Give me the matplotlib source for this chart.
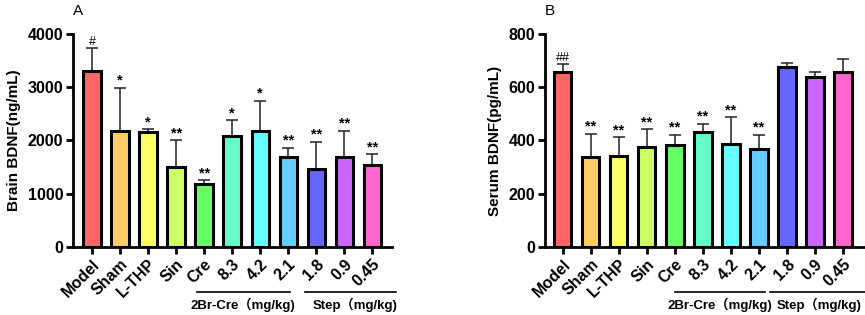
import matplotlib.pyplot as plt

plt.rcParams['font.family'] = ['Liberation Sans', 'Noto Sans CJK SC', 'DejaVu Sans']

groups = ['Model', 'Sham', 'L-THP', 'Sin', 'Cre', '8.3', '4.2', '2.1', '1.8', '0.9', '0.45']
colors = ['#FF6666', '#FFCC66', '#FFFF66', '#CCFF66', '#66FF66', '#66FFCC',
          '#66FFFF', '#66CCFF', '#6666FF', '#CC66FF', '#FF66CC']

brain_mean = [3300, 2185, 2155, 1497, 1183, 2085, 2185, 1685, 1460, 1696, 1540]
brain_sd = [430, 805, 55, 507, 75, 295, 563, 180, 518, 489, 200]
brain_sig = ['#', '*', '*', '**', '**', '*', '*', '**', '**', '**', '**']

serum_mean = [658, 339, 343, 374, 384, 433, 387, 368, 675, 638, 657]
serum_sd = [28, 86, 69, 69, 37, 30, 101, 53, 18, 20, 50]
serum_sig = ['##', '**', '**', '**', '**', '**', '**', '**', '', '', '']


def draw_panel(ax, mean, sd, sig, ymax, ystep, ylabel, letter, xlim, lines, labels):
    x = list(range(len(groups)))
    ax.errorbar(x, mean, yerr=[[0] * len(sd), sd], fmt='none', ecolor='#222222',
                elinewidth=1.1, capsize=4, capthick=1.1, zorder=1)
    ax.bar(x, mean, width=0.62, color=colors, edgecolor='black', linewidth=2.2, zorder=2)
    for xi, m, s, t in zip(x, mean, sd, sig):
        if not t:
            continue
        if '#' in t:
            ax.annotate(t, (xi, m + s), xytext=(0, 0.5), textcoords='offset points',
                        ha='center', va='bottom', fontsize=9)
        else:
            ax.annotate(t, (xi, m + s), xytext=(0, 0), textcoords='offset points',
                        ha='center', va='bottom', fontsize=10.5, fontweight='bold')
    ax.set_xlim(*xlim)
    ax.set_ylim(0, ymax)
    ax.set_yticks(range(0, ymax + 1, ystep))
    ax.set_xticks(x)
    ax.set_xticklabels(groups, rotation=45, ha='right', rotation_mode='anchor',
                       fontsize=11.5, fontweight='bold')
    for lab in ax.get_yticklabels():
        lab.set_fontweight('bold')
        lab.set_fontsize(11.5)
    ax.set_ylabel(ylabel, fontsize=11, fontweight='bold', labelpad=5)
    for sp in ['top', 'right']:
        ax.spines[sp].set_visible(False)
    for sp in ['left', 'bottom']:
        ax.spines[sp].set_linewidth(2)
    ax.tick_params(width=2, length=5, pad=2)
    ax.text(0.0, 1.11, letter, transform=ax.transAxes, fontsize=11, ha='left', va='center')
    for x0, x1 in lines:
        ax.plot([x0, x1], [-0.21, -0.21], color='black', lw=1.2,
                transform=ax.get_xaxis_transform(), clip_on=False)
    for xc, txt in labels:
        ax.text(xc, -0.27, txt, transform=ax.get_xaxis_transform(), ha='center',
                va='center', fontsize=9.5, fontweight='bold')


fig = plt.figure(figsize=(8.65, 3.15), dpi=100)
ax1 = fig.add_axes([0.0844, 0.216, 0.369, 0.676])
ax2 = fig.add_axes([0.630, 0.216, 0.369, 0.676])

draw_panel(ax1, brain_mean, brain_sd, brain_sig, 4000, 1000, 'Brain BDNF(ng/mL)', 'A',
           (-0.68, 10.71), [(3.75, 7.07), (7.6, 10.86)],
           [(5.37, '2Br-Cre（mg/kg)'), (9.37, 'Step（mg/kg)')])
draw_panel(ax2, serum_mean, serum_sd, serum_sig, 800, 200, 'Serum BDNF(pg/mL)', 'B',
           (-0.63, 10.75), [(4.01, 7.2), (7.4, 10.8)],
           [(5.6, '2Br-Cre（mg/kg)'), (9.15, 'Step（mg/kg)')])

fig.savefig('out.png', dpi=100)
